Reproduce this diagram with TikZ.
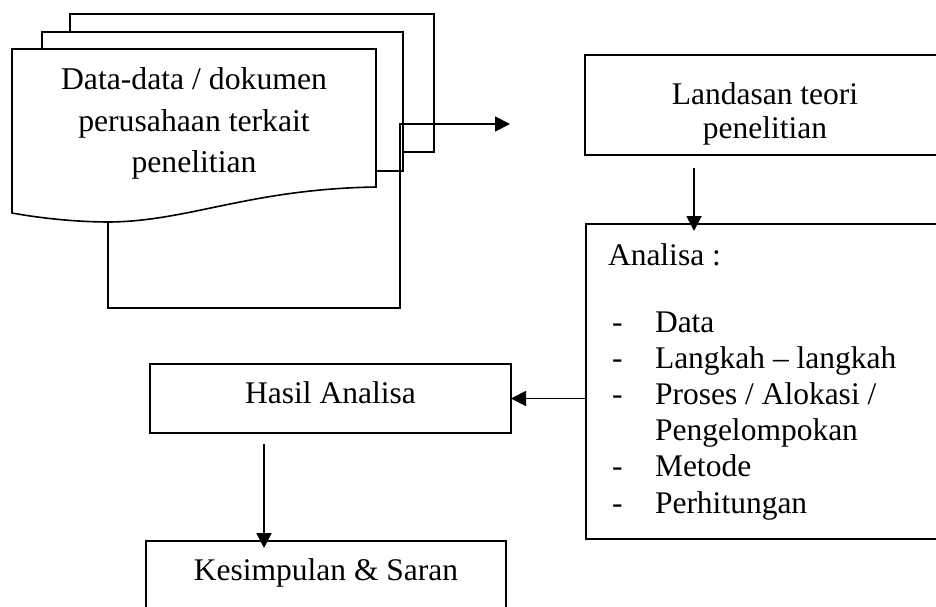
\documentclass[tikz,border=0pt]{standalone}
\usepackage{fontspec}
\setmainfont{Liberation Serif}
\usetikzlibrary{arrows.meta,calc}
\begin{document}
\begin{tikzpicture}[x=1pt,y=-1pt,
  box/.style={draw, line width=1.9pt, fill=white, inner sep=0pt, outer sep=0pt},
  docshape/.style={draw, line width=1.6pt, fill=white},
  arr/.style={-{Triangle[length=15pt,width=15pt]}, line width=1.9pt},
  conn/.style={-{Triangle[length=15pt,width=15pt]}, line width=1.7pt},
  txt/.style={inner sep=0pt, outer sep=0pt}]
\path[use as bounding box, clip] (0,0) rectangle (936,607);
\fill[white] (0,0) rectangle (936,607);

% stacked documents
\draw[docshape] (70,14) rectangle (434,152);
\draw[docshape] (42,32) rectangle (403,171);
\coordinate (docb) at (108,212);
\coordinate (elb) at (400,308);
\coordinate (tip) at (510,124);
\draw[conn] (docb) |- (elb) |- (tip);
\draw[docshape] (12,49) -- (376,49) -- (376,187)
  .. controls (250,189) and (190,221) .. (110,222)
  .. controls (80,222) and (45,219) .. (12,213) -- cycle;
\node[txt, anchor=base, font=\fontsize{31.7}{41.5}\selectfont] (doctxt) at (194,90)
  {\begin{tabular}[t]{@{}c@{}}Data-data / dokumen\\perusahaan terkait\\penelitian\end{tabular}};

% boxes
\node[box, minimum width=360pt, minimum height=100pt] (lan) at (765,105) {};
\node[txt, anchor=base, font=\fontsize{31.5}{33}\selectfont] (lantxt) at (765,105)
  {\begin{tabular}[t]{@{}c@{}}Landasan teori\\penelitian\end{tabular}};

\node[box, minimum width=359pt, minimum height=315pt] (ana) at (765.5,381.5) {};
\node[txt, anchor=base west, font=\fontsize{31.5}{36.2}\selectfont] (anatxt) at (608,265)
  {\begin{tabular}[t]{@{}p{47pt}@{}l@{}}
   \multicolumn{2}{@{}l@{}}{Analisa :}\\[30.8pt]
   \hspace{4pt}-& Data\\
   \hspace{4pt}-& Langkah – langkah\\
   \hspace{4pt}-& Proses / Alokasi /\\
   & Pengelompokan\\
   \hspace{4pt}-& Metode\\
   \hspace{4pt}-& Perhitungan
   \end{tabular}};

\node[box, minimum width=361pt, minimum height=69pt] (has) at (330.5,398.5) {};
\node[txt, anchor=base, font=\fontsize{31.5}{36}\selectfont] (hastxt) at (330.5,403) {Hasil Analisa};

\node[box, minimum width=360pt, minimum height=90pt] (kes) at (326,586) {};
\node[txt, anchor=base, font=\fontsize{31.5}{36}\selectfont] (kestxt) at (326,580) {Kesimpulan \& Saran};

% arrows
\draw[arr] ([xshift=-71pt,yshift=-13pt]lan.south) -- ([xshift=-71.5pt,yshift=-7pt]ana.north);
\draw[arr] (ana.west |- has.east) -- (has.east);
\draw[arr] ([xshift=-66.5pt,yshift=-11pt]has.south) -- ([xshift=-62pt,yshift=-7pt]kes.north);
\end{tikzpicture}
\end{document}
